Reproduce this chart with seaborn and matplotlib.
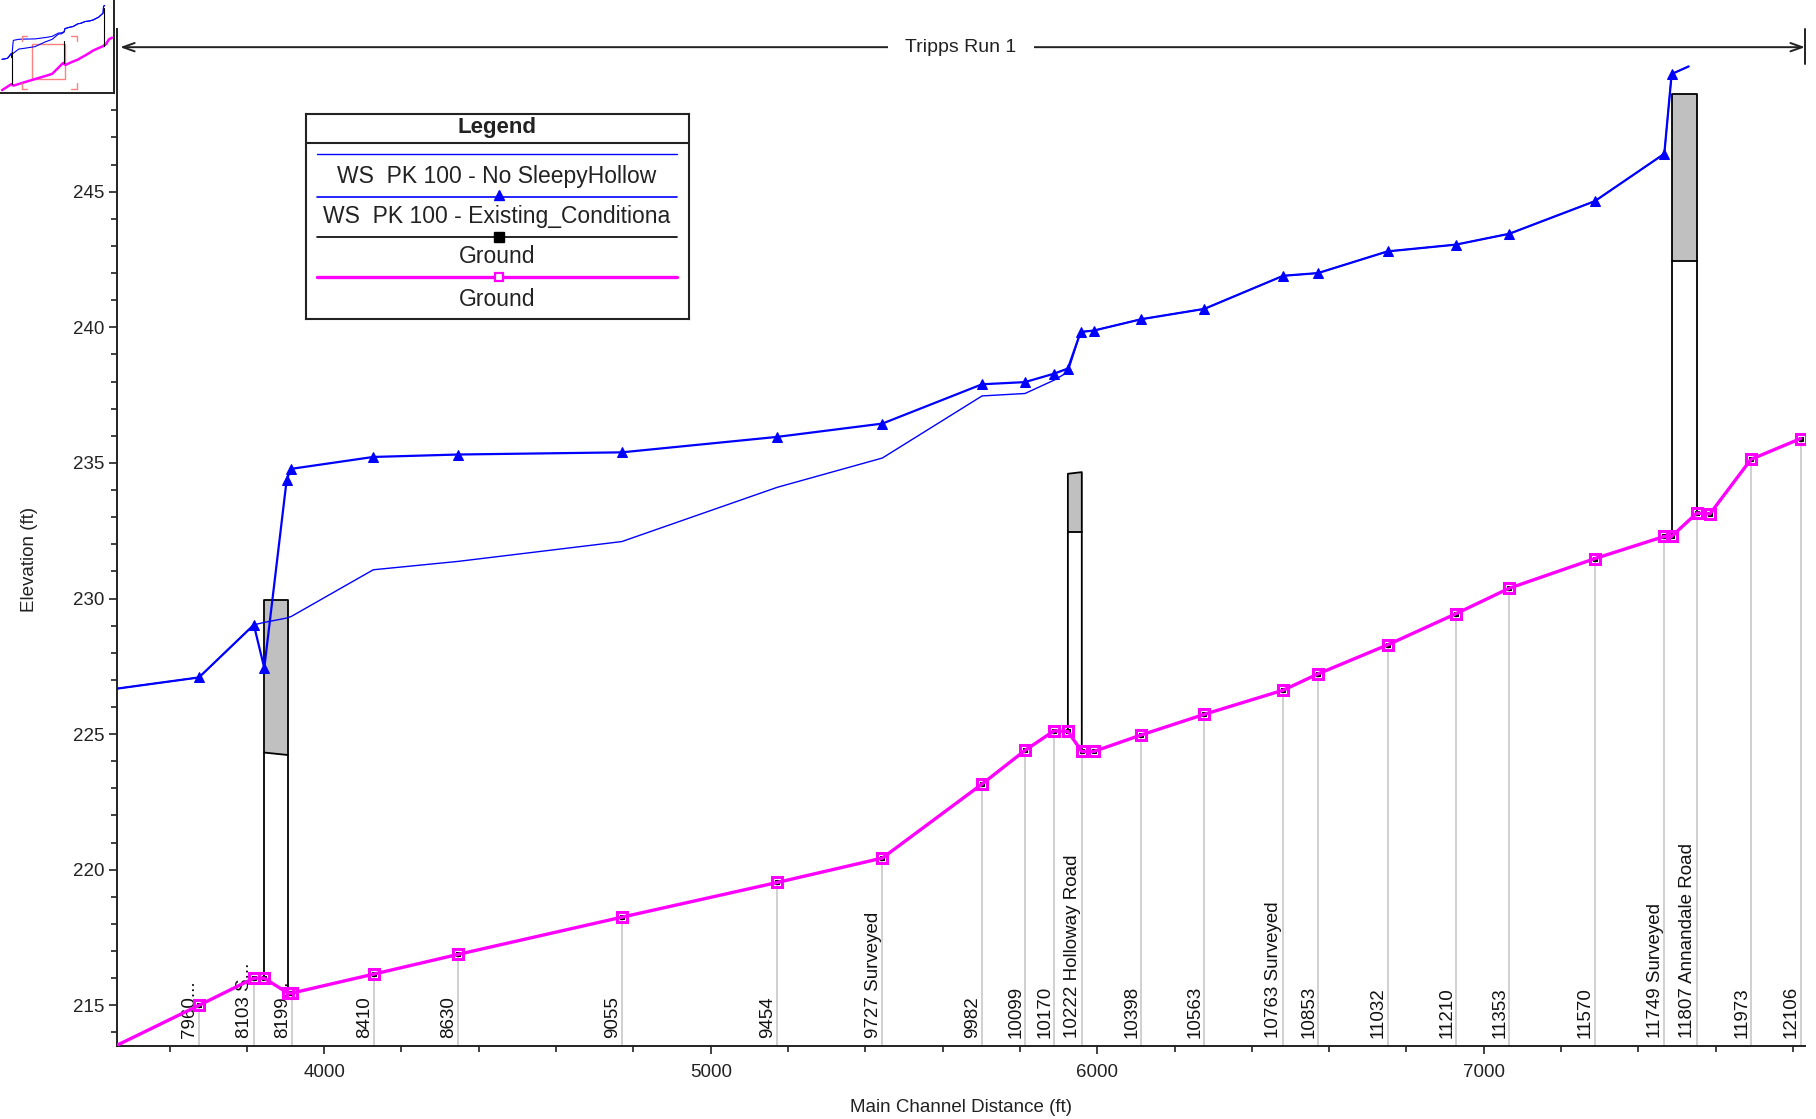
import numpy as np
import matplotlib
matplotlib.use("Agg")
import matplotlib.pyplot as plt
import seaborn as sns
from matplotlib.ticker import FixedLocator, MultipleLocator
from matplotlib.patches import Rectangle

# ---------------- data ----------------
ground_dist = [3460, 3676, 3818, 3845, 3906, 3916, 4128, 4347, 4770, 5172, 5444,
               5702, 5813, 5888, 5924, 5960, 5991, 6114, 6277, 6481, 6571,
               6751, 6928, 7066, 7287, 7467, 7486, 7551, 7585, 7691, 7820]
ground_elev = [213.5, 215.0, 216.0, 216.0, 215.45, 215.45, 216.15, 216.88, 218.25, 219.53, 220.43,
               223.16, 224.40, 225.12, 225.1, 224.36, 224.36, 224.97, 225.73, 226.62, 227.22,
               228.29, 229.44, 230.38, 231.47, 232.29, 232.29, 233.15, 233.12, 235.13, 235.9]

ws_exist_dist = [3460, 3676, 3818, 3845, 3903, 3914, 4127, 4347, 4770, 5172, 5444,
                 5702, 5813, 5888, 5924, 5957, 5991, 6114, 6277, 6481, 6571,
                 6751, 6928, 7066, 7287, 7467, 7486, 7530]
ws_exist_elev = [226.67, 227.09, 229.03, 227.44, 234.38, 234.78, 235.22, 235.31, 235.39, 235.96, 236.45,
                 237.9, 237.98, 238.29, 238.48, 239.83, 239.88, 240.3, 240.68, 241.9, 242.0,
                 242.8, 243.05, 243.45, 244.65, 246.4, 249.34, 249.62]

ws_nosh_dist = [3460, 3676, 3818, 3845, 3903, 3915, 4127, 4347, 4770, 5172, 5444,
                5702, 5813, 5888, 5924, 5957, 5991, 6114, 6277, 6481, 6571,
                6751, 6928, 7066, 7287, 7467, 7486, 7530]
ws_nosh_elev = [226.67, 227.09, 229.03, 229.12, 229.28, 229.34, 231.06, 231.37, 232.1, 234.1, 235.18,
                237.47, 237.56, 238.05, 238.35, 239.83, 239.88, 240.3, 240.68, 241.9, 242.0,
                242.8, 243.05, 243.45, 244.65, 246.4, 249.34, 249.62]

bridge_left_dist = [3845, 5924, 7486]
bridge_right_dist = [3906, 5960, 7551]
bridge_high_left = [229.95, 234.6, 248.6]
bridge_high_right = [229.95, 234.66, 248.6]
bridge_low_left = [224.32, 232.44, 242.44]
bridge_low_right = [224.23, 232.44, 242.44]

station_labels = ["7960...", "8103 S...", "8199...", "8410", "8630", "9055", "9454",
                  "9727 Surveyed", "9982", "10099", "10170", "10222 Holloway Road",
                  "10398", "10563", "10763 Surveyed", "10853", "11032", "11210",
                  "11353", "11570", "11749 Surveyed", "11807 Annandale Road",
                  "11973", "12106"]
station_dist = [3676, 3818, 3916, 4128, 4347, 4770, 5172, 5444, 5702, 5813, 5888, 5960,
                6114, 6277, 6481, 6571, 6751, 6928, 7066, 7287, 7467, 7551, 7691, 7820]

legend_labels = ["WS  PK 100 - No SleepyHollow", "WS  PK 100 - Existing_Conditiona",
                 "Ground", "Ground"]
reach_name = "Tripps Run 1"
x_ticks = [4000, 5000, 6000, 7000]
y_ticks = [215, 220, 225, 230, 235, 240, 245]

# ---------------- style ----------------
sns.set_style("ticks")
plt.rcParams["font.family"] = ["Liberation Sans", "DejaVu Sans"]

BLUE = "#0000FF"
MAGENTA = "#FF00FF"
GRAY_LINE = "#C8C8C8"
DECK = "#C0C0C0"

W, H = 1816, 1119
fig = plt.figure(figsize=(W / 100, H / 100), dpi=100)
ax_l, ax_r, ax_t, ax_b = 117, 1805, 29, 1046
ax = fig.add_axes([ax_l / W, 1 - ax_b / H, (ax_r - ax_l) / W, (ax_b - ax_t) / H])

XMIN, XMAX = 3464, 7831
YMIN, YMAX = 213.5, 251.0
ax.set_xlim(XMIN, XMAX)
ax.set_ylim(YMIN, YMAX)

# station gray lines
g_at_st = np.interp(station_dist, ground_dist, ground_elev)
ax.vlines(station_dist, YMIN, g_at_st, color=GRAY_LINE, lw=1.2, zorder=1)

# station labels
for lab, d in zip(station_labels, station_dist):
    ax.annotate(lab, xy=(d, 0), xycoords=("data", "axes fraction"),
                xytext=(-0.5, 6), textcoords="offset points", rotation=90,
                ha="right", va="bottom", fontsize=13.5, color="#111111", zorder=2)

# bridges
for xl, xr, hl, hr, ll, lr in zip(bridge_left_dist, bridge_right_dist, bridge_high_left,
                                  bridge_high_right, bridge_low_left, bridge_low_right):
    gl, gr = np.interp([xl, xr], ground_dist, ground_elev)
    ax.fill_between([xl, xr], [ll, lr], [hl, hr], color=DECK, lw=0, zorder=3)
    ax.plot([xl, xl, xr, xr], [gl, hl, hr, gr], color="black", lw=1.3, zorder=4)
    ax.plot([xl, xr], [ll, lr], color="black", lw=1.3, zorder=4)

# ground (plan 1, black) and ground (plan 2, magenta)
sns.lineplot(x=ground_dist, y=ground_elev, ax=ax, color="black", lw=1.0, marker="s",
             ms=2.6, mfc="black", mec="black", sort=False, estimator=None, zorder=5)
sns.lineplot(x=ground_dist, y=ground_elev, ax=ax, color=MAGENTA, lw=2.4, marker="s",
             ms=7.5, mfc="none", mec=MAGENTA, mew=2.2, markevery=list(range(1, len(ground_dist))),
             sort=False, estimator=None, zorder=6)

# water surfaces
sns.lineplot(x=ws_nosh_dist, y=ws_nosh_elev, ax=ax, color=BLUE, lw=1.0,
             sort=False, estimator=None, zorder=7)
sns.lineplot(x=ws_exist_dist, y=ws_exist_elev, ax=ax, color=BLUE, lw=1.6, marker="^",
             ms=6.5, mfc=BLUE, mec=BLUE, markevery=list(range(1, len(ws_exist_dist) - 1)),
             sort=False, estimator=None, zorder=8)

# axes styling
for s in ["top", "right"]:
    ax.spines[s].set_visible(False)
for s in ["left", "bottom"]:
    ax.spines[s].set_linewidth(1.4)
    ax.spines[s].set_color("#222222")
ax.set_xticks(x_ticks)
ax.set_yticks(y_ticks)
ax.xaxis.set_minor_locator(MultipleLocator(200))
ax.yaxis.set_minor_locator(FixedLocator(list(range(214, 249))))
ax.tick_params(axis="both", which="major", direction="out", length=6, width=1.2,
               labelsize=13.5, colors="#222222")
ax.tick_params(axis="both", which="minor", direction="out", length=4, width=1.2, colors="#222222")
ax.tick_params(axis="x", which="major", pad=7)
ax.tick_params(axis="y", which="major", pad=3)
ax.set_xlabel("Main Channel Distance (ft)", fontsize=13.5, color="#222222")
ax.set_ylabel("Elevation (ft)", fontsize=13.5, color="#222222")
ax.xaxis.set_label_coords(0.5, -(1107 - ax_b) / (ax_b - ax_t))
ax.xaxis.label.set_va("center")
ax.yaxis.set_label_coords(-(ax_l - 30) / (ax_r - ax_l), (ax_b - 559) / (ax_b - ax_t))
ax.yaxis.label.set_va("center")
ax.grid(False)

# reach arrow
arrow_y = 250.33
ax.annotate("", xy=(XMIN + 8, arrow_y), xytext=(XMAX, arrow_y),
            arrowprops=dict(arrowstyle="<->,head_length=0.7,head_width=0.25", lw=1.4,
                            color="#222222", shrinkA=0, shrinkB=0, mutation_scale=12),
            annotation_clip=False, zorder=9)
ax.plot([XMAX, XMAX], [249.7, YMAX], color="#222222", lw=1.4, clip_on=False, zorder=9)
ax.text((XMIN + XMAX) / 2, arrow_y, reach_name, ha="center", va="center", fontsize=14,
        color="#222222", zorder=10,
        bbox=dict(facecolor="white", edgecolor="none", boxstyle="square,pad=0.9"))

# ---------------- legend box ----------------
lx0, ly0, lx1, ly1 = 305.5, 113.5, 689, 319
lw_px, lh_px = lx1 - lx0, ly1 - ly0
lax = fig.add_axes([lx0 / W, 1 - ly1 / H, lw_px / W, lh_px / H], zorder=20)
lax.set_xlim(0, lw_px)
lax.set_ylim(lh_px, 0)
lax.set_xticks([])
lax.set_yticks([])
lax.set_facecolor("white")
for s in lax.spines.values():
    s.set_linewidth(1.5)
    s.set_color("#222222")
lax.plot([0, lw_px], [29.2, 29.2], color="#222222", lw=1.5)
lax.text(lw_px / 2, 13.5, "Legend", ha="center", va="center", fontsize=16, fontweight="bold",
         color="#222222")
lx_a, lx_b, mx = 11.8, 371.8, 193.5
lax.plot([lx_a, lx_b], [40.5, 40.5], color=BLUE, lw=1.0)
lax.plot([lx_a, lx_b], [83.2, 83.2], color=BLUE, lw=1.2)
lax.plot([mx], [81.5], marker="^", ms=7, color=BLUE)
lax.plot([lx_a, lx_b], [123.8, 123.8], color="black", lw=1.2)
lax.plot([mx], [123.8], marker="s", ms=6.5, color="black")
lax.plot([lx_a, lx_b], [163.8, 163.8], color=MAGENTA, lw=2.4)
lax.plot([mx], [163.8], marker="s", ms=6, mfc="white", mec=MAGENTA, mew=1.6)
for txt, yy in zip(legend_labels, [62.5, 103.2, 143.2, 185.8]):
    lax.text(mx - 2, yy, txt, ha="center", va="center", fontsize=16.5, color="#222222")

# ---------------- overview inset ----------------
iax = fig.add_axes([0, 1 - 92.5 / H, 114 / W, 92.5 / H], zorder=15)
iax.set_xticks([])
iax.set_yticks([])
iax.set_facecolor("white")
iax.spines["top"].set_visible(False)
iax.spines["left"].set_visible(False)
for s in ["right", "bottom"]:
    iax.spines[s].set_linewidth(1.4)
    iax.spines[s].set_color("#222222")
sns.lineplot(x=ws_nosh_dist, y=ws_nosh_elev, ax=iax, color=BLUE, lw=0.8, sort=False, estimator=None)
sns.lineplot(x=ws_exist_dist, y=ws_exist_elev, ax=iax, color=BLUE, lw=0.8, sort=False, estimator=None)
sns.lineplot(x=ground_dist, y=ground_elev, ax=iax, color=MAGENTA, lw=1.8, sort=False, estimator=None)
for xl, xr, hl, ll in zip(bridge_left_dist, bridge_right_dist, bridge_high_left, bridge_low_left):
    iax.plot([xl, xl], [np.interp(xl, ground_dist, ground_elev), hl], color="black", lw=0.8)
iax.set_xlim(3380, 7900)
iax.set_ylim(212.5, 252)
iax.add_patch(Rectangle((0.277, 0.146), 0.295, 0.374, transform=iax.transAxes,
                        fill=False, ec="#FF8080", lw=1.0))
bx0, bx1, by0, by1, bl = 0.19, 0.675, 0.04, 0.616, 0.05
for cx, cy, sx, sy in [(bx0, by0, 1, 1), (bx1, by0, -1, 1), (bx0, by1, 1, -1), (bx1, by1, -1, -1)]:
    iax.plot([cx, cx + sx * bl], [cy, cy], color="#FF8080", lw=1.0, transform=iax.transAxes)
    iax.plot([cx, cx], [cy, cy + sy * bl * 1.2], color="#FF8080", lw=1.0, transform=iax.transAxes)

fig.savefig("out.png", dpi=100, facecolor="white")
